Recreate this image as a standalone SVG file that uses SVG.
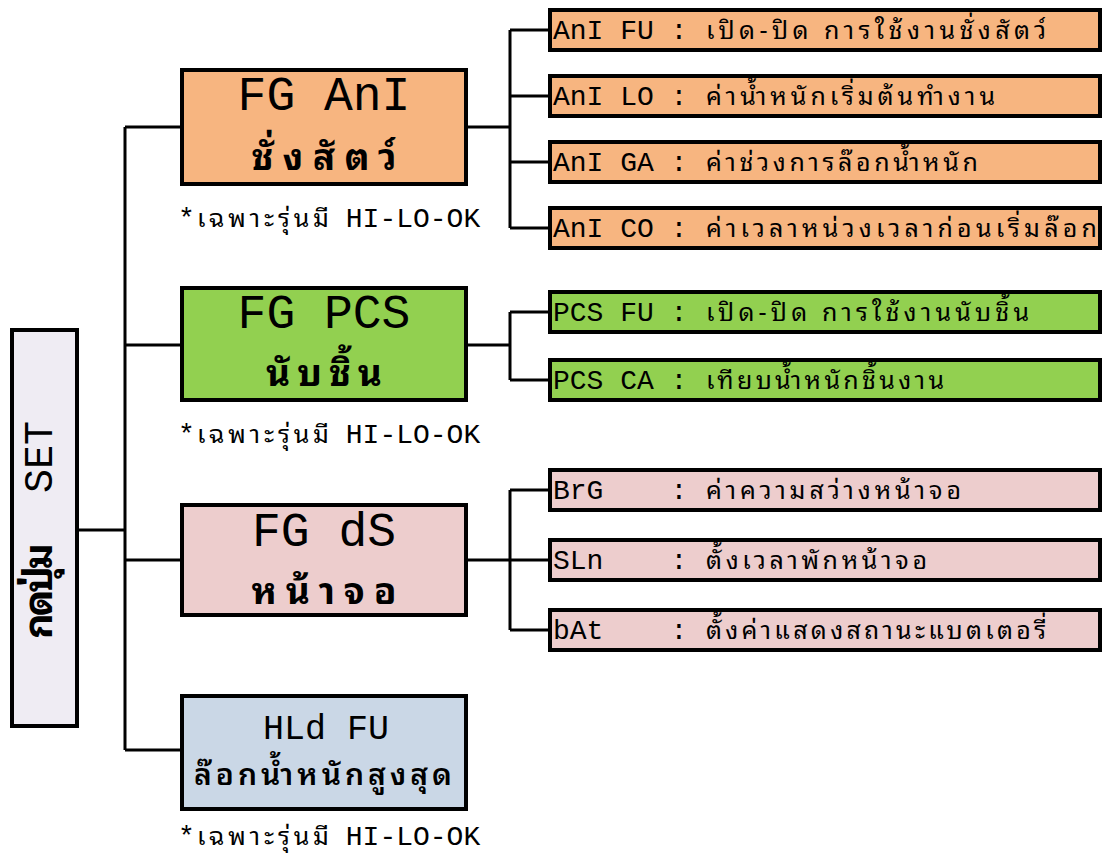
<svg xmlns="http://www.w3.org/2000/svg" width="1104" height="857" viewBox="0 0 1104 857">
<style>
.box{stroke:#000;stroke-width:4}
.orange{fill:#F7B580}.green{fill:#92D050}.pink{fill:#EDCDCD}.blue{fill:#CAD7E6}.lav{fill:#EFECF3}
.conn{stroke:#000;stroke-width:3;fill:none}
text{font-family:"Liberation Mono","Noto Sans Thai","Noto Sans","DejaVu Sans Mono",monospace;fill:#000}
.sm{font-size:28px}
.big{font-size:48px}
.th{font-family:"Tlwg Typo","Tlwg Mono","Noto Sans Thai Looped","Noto Serif Thai","Noto Sans Thai","Noto Sans","DejaVu Sans",sans-serif}
.b{font-weight:bold}
</style>
<rect width="1104" height="857" fill="#fff"/>
<g id="connectors">
<path class="conn" d="M77 530H125M125 127V750M125 127H182M125 345H182M125 560H182M125 750H182"/>
<path class="conn" d="M466 127H510M510 30V228M510 30H550M510 96H550M510 162H550M510 228H550"/>
<path class="conn" d="M466 345H510M510 312V380M510 312H550M510 380H550"/>
<path class="conn" d="M466 560H510M510 490V630M510 490H550M510 560H550M510 630H550"/>
</g>
<g id="root">
<rect class="box lav" x="12" y="330" width="65" height="396"/>
<text transform="translate(52,527) rotate(-90)" font-size="40"><tspan class="th b" x="-112" textLength="96" lengthAdjust="spacing">กดปุ่ม</tspan><tspan x="34">SET</tspan></text>
</g>
<g id="fg-ani">
<rect class="box orange" x="182" y="70" width="284" height="114"/>
<text class="big" x="324" y="110" text-anchor="middle">FG AnI</text>
<text class="th b" x="324" y="170" font-size="37" text-anchor="middle" textLength="145" lengthAdjust="spacing">ชั่งสัตว์</text>
<text class="sm" x="178" y="227">*<tspan class="th" font-size="25" x="197" textLength="132" lengthAdjust="spacing">เฉพาะรุ่นมี</tspan><tspan x="329"> HI-LO-OK</tspan></text>
</g>
<g id="fg-pcs">
<rect class="box green" x="182" y="288" width="284" height="112"/>
<text class="big" x="324" y="328" text-anchor="middle">FG PCS</text>
<text class="th b" x="324" y="386" font-size="37" text-anchor="middle" textLength="116" lengthAdjust="spacing">นับชิ้น</text>
<text class="sm" x="178" y="443">*<tspan class="th" font-size="25" x="197" textLength="132" lengthAdjust="spacing">เฉพาะรุ่นมี</tspan><tspan x="329"> HI-LO-OK</tspan></text>
</g>
<g id="fg-ds">
<rect class="box pink" x="182" y="505" width="284" height="110"/>
<text class="big" x="324" y="546" text-anchor="middle">FG dS</text>
<text class="th b" x="324" y="604" font-size="37" text-anchor="middle" textLength="145" lengthAdjust="spacing">หน้าจอ</text>
</g>
<g id="hld-fu">
<rect class="box blue" x="182" y="696" width="284" height="113"/>
<text x="326" y="739" font-size="35" text-anchor="middle">HLd FU</text>
<text class="th" x="323" y="785" font-size="30" font-weight="600" text-anchor="middle" textLength="258" lengthAdjust="spacing">ล๊อกน้ำหนักสูงสุด</text>
<text class="sm" x="178" y="845">*<tspan class="th" font-size="25" x="197" textLength="132" lengthAdjust="spacing">เฉพาะรุ่นมี</tspan><tspan x="329"> HI-LO-OK</tspan></text>
</g>
<g id="ani-fu"><rect class="box orange" x="550" y="10" width="550" height="40"/><text class="sm" x="553" y="39">AnI FU :<tspan class="th" font-size="25" x="706" textLength="340" lengthAdjust="spacing">เปิด-ปิด การใช้งานชั่งสัตว์</tspan></text></g>
<g id="ani-lo"><rect class="box orange" x="550" y="76" width="550" height="40"/><text class="sm" x="553" y="105">AnI LO :<tspan class="th" font-size="25" x="706" textLength="289" lengthAdjust="spacing">ค่าน้ำหนักเริ่มต้นทำงาน</tspan></text></g>
<g id="ani-ga"><rect class="box orange" x="550" y="142" width="550" height="40"/><text class="sm" x="553" y="171">AnI GA :<tspan class="th" font-size="25" x="706" textLength="272" lengthAdjust="spacing">ค่าช่วงการล๊อกน้ำหนัก</tspan></text></g>
<g id="ani-co"><rect class="box orange" x="550" y="208" width="550" height="40"/><text class="sm" x="553" y="237">AnI CO :<tspan class="th" font-size="25" x="706" textLength="391" lengthAdjust="spacing">ค่าเวลาหน่วงเวลาก่อนเริ่มล๊อก</tspan></text></g>
<g id="pcs-fu"><rect class="box green" x="550" y="292" width="550" height="40"/><text class="sm" x="553" y="321">PCS FU :<tspan class="th" font-size="25" x="706" textLength="323" lengthAdjust="spacing">เปิด-ปิด การใช้งานนับชิ้น</tspan></text></g>
<g id="pcs-ca"><rect class="box green" x="550" y="360" width="550" height="40"/><text class="sm" x="553" y="389">PCS CA :<tspan class="th" font-size="25" x="706" textLength="238" lengthAdjust="spacing">เทียบน้ำหนักชิ้นงาน</tspan></text></g>
<g id="brg"><rect class="box pink" x="550" y="470" width="550" height="40"/><text class="sm" x="553" y="499" xml:space="preserve">BrG    :<tspan class="th" font-size="25" x="706" textLength="255" lengthAdjust="spacing">ค่าความสว่างหน้าจอ</tspan></text></g>
<g id="sln"><rect class="box pink" x="550" y="540" width="550" height="40"/><text class="sm" x="553" y="569" xml:space="preserve">SLn    :<tspan class="th" font-size="25" x="706" textLength="221" lengthAdjust="spacing">ตั้งเวลาพักหน้าจอ</tspan></text></g>
<g id="bat"><rect class="box pink" x="550" y="610" width="550" height="40"/><text class="sm" x="553" y="639" xml:space="preserve">bAt    :<tspan class="th" font-size="25" x="706" textLength="340" lengthAdjust="spacing">ตั้งค่าแสดงสถานะแบตเตอรี่</tspan></text></g>
</svg>
